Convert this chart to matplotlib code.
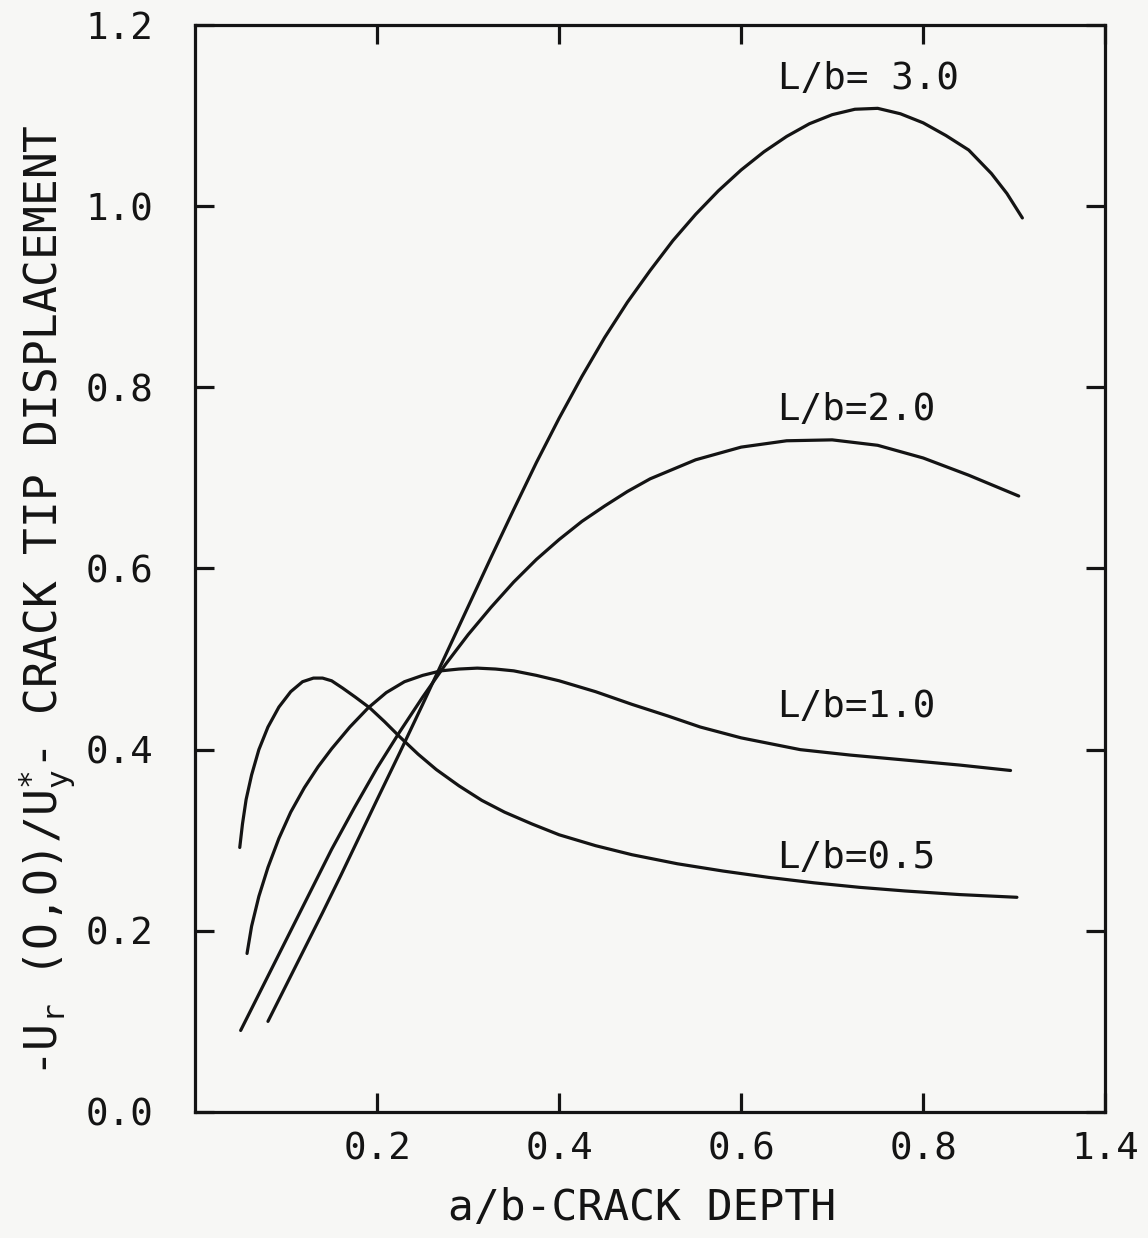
import matplotlib
matplotlib.use('Agg')
import matplotlib.pyplot as plt

# values
x_05 = [0.049, 0.052, 0.056, 0.062, 0.070, 0.080, 0.092, 0.105, 0.118, 0.130,
        0.140, 0.150, 0.162, 0.176, 0.192, 0.208, 0.225, 0.245, 0.265, 0.290,
        0.315, 0.340, 0.370, 0.400, 0.440, 0.480, 0.530, 0.580, 0.630, 0.680,
        0.730, 0.780, 0.840, 0.903]
y_05 = [0.292, 0.318, 0.345, 0.372, 0.400, 0.425, 0.447, 0.464, 0.475, 0.479,
        0.479, 0.476, 0.468, 0.458, 0.446, 0.431, 0.414, 0.395, 0.378, 0.360,
        0.344, 0.331, 0.318, 0.306, 0.294, 0.284, 0.274, 0.266, 0.259, 0.253,
        0.248, 0.244, 0.240, 0.237]

x_10 = [0.057, 0.062, 0.070, 0.080, 0.092, 0.105, 0.120, 0.135, 0.150, 0.170,
        0.190, 0.210, 0.230, 0.250, 0.270, 0.290, 0.310, 0.330, 0.350, 0.375,
        0.400, 0.440, 0.480, 0.520, 0.555, 0.600, 0.665, 0.720, 0.775, 0.840,
        0.896]
y_10 = [0.175, 0.205, 0.238, 0.270, 0.302, 0.331, 0.358, 0.381, 0.401, 0.425,
        0.446, 0.463, 0.475, 0.482, 0.487, 0.489, 0.490, 0.489, 0.487, 0.482,
        0.476, 0.464, 0.450, 0.437, 0.425, 0.413, 0.400, 0.394, 0.389, 0.383,
        0.377]

x_20 = [0.050, 0.075, 0.100, 0.125, 0.150, 0.175, 0.200, 0.225, 0.250, 0.275,
        0.300, 0.325, 0.350, 0.375, 0.400, 0.425, 0.450, 0.475, 0.500, 0.550,
        0.600, 0.650, 0.700, 0.750, 0.800, 0.850, 0.905]
y_20 = [0.090, 0.140, 0.190, 0.240, 0.290, 0.336, 0.380, 0.420, 0.458, 0.494,
        0.527, 0.557, 0.585, 0.610, 0.632, 0.652, 0.669, 0.685, 0.699, 0.720,
        0.734, 0.741, 0.742, 0.736, 0.722, 0.703, 0.680]

x_30 = [0.080, 0.100, 0.120, 0.140, 0.160, 0.180, 0.200, 0.225, 0.250, 0.275,
        0.300, 0.325, 0.350, 0.375, 0.400, 0.425, 0.450, 0.475, 0.500, 0.525,
        0.550, 0.575, 0.600, 0.625, 0.650, 0.675, 0.700, 0.725, 0.750, 0.775,
        0.800, 0.825, 0.850, 0.875, 0.892, 0.909]
y_30 = [0.100, 0.140, 0.180, 0.220, 0.261, 0.303, 0.345, 0.397, 0.450, 0.504,
        0.558, 0.612, 0.665, 0.717, 0.766, 0.812, 0.855, 0.894, 0.929, 0.962,
        0.991, 1.017, 1.040, 1.060, 1.077, 1.091, 1.101, 1.107, 1.108, 1.102,
        1.092, 1.078, 1.062, 1.036, 1.014, 0.987]

curve_labels = ['L/b=0.5', 'L/b=1.0', 'L/b=2.0', 'L/b= 3.0']
label_pos = [(0.64, 0.280), (0.64, 0.447), (0.64, 0.775), (0.64, 1.140)]

x_ticks = [0.2, 0.4, 0.6, 0.8, 1.0]
x_ticklabels = ['0.2', '0.4', '0.6', '0.8', '1.4']
y_ticks = [0.0, 0.2, 0.4, 0.6, 0.8, 1.0, 1.2]
y_ticklabels = ['0.0', '0.2', '0.4', '0.6', '0.8', '1.0', '1.2']

bg = '#f7f7f5'
ink = '#141414'
plt.rcParams['font.family'] = ['DejaVu Sans Mono']
plt.rcParams['mathtext.fontset'] = 'custom'
plt.rcParams['mathtext.rm'] = 'DejaVu Sans Mono'
plt.rcParams['mathtext.it'] = 'DejaVu Sans Mono'
plt.rcParams['mathtext.default'] = 'rm'

fig = plt.figure(figsize=(11.48, 12.38), dpi=100, facecolor=bg)
ax = fig.add_axes([0.170, 0.1018, 0.7927, 0.878])
ax.set_facecolor(bg)

for xs, ys in [(x_05, y_05), (x_10, y_10), (x_20, y_20), (x_30, y_30)]:
    ax.plot(xs, ys, color=ink, lw=2.3, solid_capstyle='round',
            solid_joinstyle='round')

for txt, (tx, ty) in zip(curve_labels, label_pos):
    ax.text(tx, ty, txt, fontsize=27, ha='left', va='center', color=ink)

ax.set_xlim(0, 1.0)
ax.set_ylim(0, 1.2)
ax.set_xticks(x_ticks)
ax.set_xticklabels(x_ticklabels)
ax.set_yticks(y_ticks)
ax.set_yticklabels(y_ticklabels)
ax.tick_params(direction='in', length=14, width=2.3, top=True, right=True,
               labelsize=27, colors=ink)
ax.tick_params(axis='x', pad=14)
ax.tick_params(axis='y', pad=30)
for s in ax.spines.values():
    s.set_linewidth(2.3)
    s.set_color(ink)

ax.set_xlabel('a/b-CRACK DEPTH', fontsize=31, color=ink, va='center')
ax.xaxis.set_label_coords(0.491, -0.088)
ax.set_ylabel(r'-U$_r$ (O,O)/U$_y^{*}$- CRACK TIP DISPLACEMENT', fontsize=32,
              color=ink, va='center')
ax.yaxis.set_label_coords(-0.163, 0.47)

fig.savefig('out.png', dpi=100, facecolor=bg)
